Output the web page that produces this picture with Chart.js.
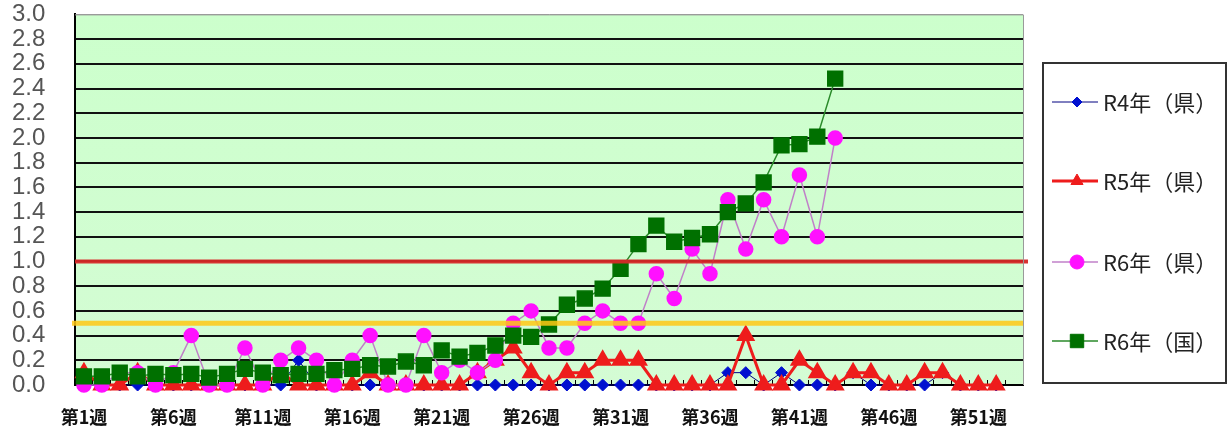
<!DOCTYPE html>
<html>
<head>
<meta charset="utf-8">
<script src="https://cdn.jsdelivr.net/npm/chart.js@4.4.1/dist/chart.umd.min.js"></script>
<style>
  body { margin: 0; background: #fff; }
  #wrap { position: relative; width: 1229px; height: 432px; }
</style>
</head>
<body>
<div id="wrap"><canvas id="myChart"></canvas></div>
<script>
// 週 (53 categories, labels shown every 5th)
const weeks = Array.from({length: 53}, (_, i) => '第' + (i + 1) + '週');

const r4Ken = [0, 0, 0, 0, 0, 0, 0, 0, 0, 0,
  0, 0, 0.2, 0, 0, 0, 0, 0, 0, 0,
  0, 0, 0, 0, 0, 0, 0, 0, 0, 0,
  0, 0, 0, 0, 0, 0, 0.1, 0.1, 0, 0.1,
  0, 0, 0, 0.1, 0, 0, 0, 0, 0.1, 0,
  0, 0, null];

const r5Ken = [0.1, 0, 0, 0.1, 0, 0, 0, 0, 0, 0,
  0, 0.1, 0, 0, 0, 0, 0.1, 0, 0, 0,
  0, 0, 0.1, 0.2, 0.3, 0.1, 0, 0.1, 0.1, 0.2,
  0.2, 0.2, 0, 0, 0, 0, 0, 0.4, 0, 0,
  0.2, 0.1, 0, 0.1, 0.1, 0, 0, 0.1, 0.1, 0,
  0, 0, null];

const r6Ken = [0, 0, 0.1, 0.1, 0, 0.1, 0.4, 0, 0, 0.3,
  0, 0.2, 0.3, 0.2, 0, 0.2, 0.4, 0, 0, 0.4,
  0.1, 0.2, 0.1, 0.2, 0.5, 0.6, 0.3, 0.3, 0.5, 0.6,
  0.5, 0.5, 0.9, 0.7, 1.1, 0.9, 1.5, 1.1, 1.5, 1.2,
  1.7, 1.2, 2.0];

const r6Kuni = [0.07, 0.07, 0.10, 0.07, 0.09, 0.08, 0.09, 0.06, 0.09, 0.13,
  0.10, 0.08, 0.09, 0.09, 0.12, 0.13, 0.16, 0.15, 0.19, 0.16,
  0.28, 0.23, 0.26, 0.32, 0.40, 0.39, 0.49, 0.65, 0.70, 0.78,
  0.94, 1.14, 1.29, 1.16, 1.19, 1.22, 1.40, 1.47, 1.64, 1.94,
  1.95, 2.01, 2.48];

// 目安の線
const warnLevel = 0.5;
const alertLevel = 1.0;

const ctx = document.getElementById('myChart');

const plotBg = {
  id: 'plotBg',
  beforeDraw(chart) {
    const {ctx, chartArea: a} = chart;
    const g = ctx.createLinearGradient(0, a.top, 0, a.bottom);
    g.addColorStop(0, '#ccffcc');
    g.addColorStop(1, '#d4fcd4');
    ctx.save();
    ctx.fillStyle = g;
    ctx.fillRect(a.left, a.top, a.right - a.left, a.bottom - a.top);
    ctx.restore();
  },
  afterDatasetsDraw(chart) {
    const {ctx, chartArea: a, scales: {y}} = chart;
    ctx.save();
    let py = y.getPixelForValue(alertLevel);
    ctx.strokeStyle = 'rgba(214,40,40,0.95)';
    ctx.lineWidth = 4;
    ctx.beginPath(); ctx.moveTo(a.left, py); ctx.lineTo(a.right + 5, py); ctx.stroke();
    py = y.getPixelForValue(warnLevel);
    ctx.strokeStyle = 'rgba(255,200,20,0.85)';
    ctx.lineWidth = 5;
    ctx.beginPath(); ctx.moveTo(a.left - 3, py); ctx.lineTo(a.right, py); ctx.stroke();
    // 枠 (上・右)
    ctx.strokeStyle = '#9a9a9a';
    ctx.lineWidth = 1;
    ctx.beginPath();
    ctx.moveTo(a.left, a.top + 0.5); ctx.lineTo(a.right + 0.5, a.top + 0.5); ctx.lineTo(a.right + 0.5, a.bottom);
    ctx.stroke();
    ctx.restore();
  },
  afterDraw(chart) {
    // 凡例
    const c = chart.ctx;
    c.save();
    c.strokeStyle = '#333';
    c.lineWidth = 2;
    c.strokeRect(1043, 63, 183, 320);
    const rows = [102, 181, 262, 341];
    chart.data.datasets.forEach((ds, i) => {
      const yy = rows[i];
      c.strokeStyle = ds.borderColor;
      c.lineWidth = ds.borderWidth;
      c.beginPath(); c.moveTo(1052, yy); c.lineTo(1098, yy); c.stroke();
      c.fillStyle = ds.pointBackgroundColor;
      c.strokeStyle = ds.pointBorderColor;
      c.lineWidth = 1;
      Chart.helpers.drawPoint(c, {pointStyle: ds.pointStyle, radius: ds.legendRadius, rotation: 0, borderWidth: 1}, 1077, yy);
      c.fillStyle = '#222';
      c.font = '22px "Noto Sans CJK JP"';
      c.textBaseline = 'middle';
      c.fillText(ds.label, 1103, yy + 1);
    });
    c.restore();
  }
};

new Chart(ctx, {
  type: 'line',
  data: {
    labels: weeks,
    datasets: [{
      label: 'R4年（県）',
      data: r4Ken,
      borderColor: '#000080',
      borderWidth: 1,
      pointStyle: 'rectRot',
      pointRadius: 6,
      legendRadius: 5,
      pointBackgroundColor: '#0010d0',
      pointBorderColor: '#0010d0',
      clip: false,
      order: 4
    }, {
      label: 'R5年（県）',
      data: r5Ken,
      borderColor: '#ee1c1c',
      borderWidth: 3,
      pointStyle: 'triangle',
      pointRadius: 8,
      legendRadius: 7,
      pointBackgroundColor: '#ee1c1c',
      pointBorderColor: '#ee1c1c',
      clip: false,
      order: 3
    }, {
      label: 'R6年（県）',
      data: r6Ken,
      borderColor: '#c080c8',
      borderWidth: 1.5,
      pointStyle: 'circle',
      pointRadius: 7,
      legendRadius: 7,
      pointBackgroundColor: '#ff10ff',
      pointBorderColor: '#ff10ff',
      clip: false,
      order: 2
    }, {
      label: 'R6年（国）',
      data: r6Kuni,
      borderColor: '#2a8a2a',
      borderWidth: 1.5,
      pointStyle: 'rect',
      pointRadius: 10.5,
      legendRadius: 9.5,
      pointBackgroundColor: '#007000',
      pointBorderColor: '#007000',
      clip: false,
      order: 1
    }]
  },
  options: {
    responsive: true,
    maintainAspectRatio: false,
    animation: false,
    events: [],
    layout: { padding: { left: 12, right: 206, top: 0, bottom: 4 } },
    plugins: { legend: { display: false }, tooltip: { enabled: false } },
    elements: { line: { tension: 0 }, point: { borderWidth: 1 } },
    scales: {
      x: {
        offset: true,
        afterFit: s => { s.height = 43; },
        grid: { display: true, drawOnChartArea: false, drawTicks: true, tickLength: -5, offset: true, color: '#000', lineWidth: 1 },
        border: { color: '#000', width: 2 },
        ticks: {
          autoSkip: false,
          maxRotation: 0,
          padding: 26,
          color: '#111',
          font: { family: '"Noto Sans CJK JP"', size: 18, weight: 'bold' },
          callback: (v, i) => (i % 5 === 0 ? weeks[i] : '')
        }
      },
      y: {
        min: 0,
        max: 3.0,
        afterFit: s => { s.width = 63; },
        grid: {
          drawTicks: false,
          color: c => (c.tick && c.tick.value >= 2.99 ? '#9a9a9a' : '#111'),
          lineWidth: c => (c.tick && c.tick.value >= 2.99 ? 1 : 2)
        },
        border: { color: '#000', width: 2 },
        ticks: {
          autoSkip: false,
          stepSize: 0.2,
          padding: 0,
          crossAlign: 'far',
          color: '#555',
          font: { family: '"Liberation Sans"', size: 24 },
          callback: v => Number(v).toFixed(1)
        }
      }
    }
  },
  plugins: [plotBg]
});
</script>
</body>
</html>
